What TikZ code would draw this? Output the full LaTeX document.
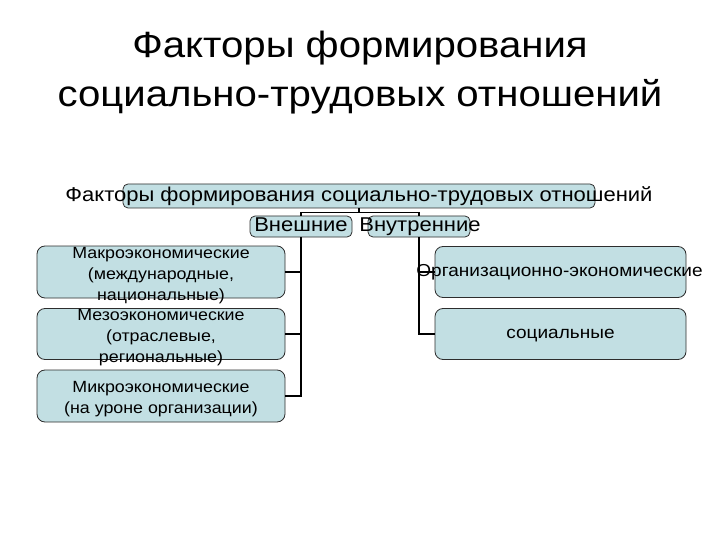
\documentclass[tikz,border=0pt]{standalone}
\usepackage{fontspec}
\setmainfont[FakeStretch=1.1]{Liberation Sans}
\usepackage{tikz}

\begin{document}
\begin{tikzpicture}[x=1pt, y=-1pt, every node/.style={inner sep=0pt, align=center, text height=0.905em, text depth=0.212em, font=\fontsize{16.2}{21}\selectfont}]
  \definecolor{azulCaja}{RGB}{194,223,227}
  \definecolor{bordeCaja}{RGB}{45,45,45}
  \tikzset{caja/.style={draw=bordeCaja, fill=azulCaja, line width=0.8pt, rounded corners=8pt},
           cajita/.style={caja, rounded corners=5pt},
           varias/.style={text height=, text depth=},
           linea/.style={line width=1.6pt}}

  \useasboundingbox (0,0) rectangle (720,540);

  % titulo
  \node[font=\fontsize{36.5}{49}\selectfont, anchor=base] (T1) at (360,58) {Факторы формирования};
  \node[font=\fontsize{36.5}{49}\selectfont, anchor=base] (T2) at (360,107) {социально-трудовых отношений};

  % cajas
  \node[cajita, minimum width=472, minimum height=24] (F) at (359,196) {};
  \node[cajita, minimum width=102, minimum height=21] (E) at (301,226.5) {};
  \node[cajita, minimum width=102, minimum height=21] (I) at (419,226.5) {};

  \node[caja, minimum width=248, minimum height=52] (M1) at (161,272) {};
  \node[caja, minimum width=248, minimum height=51] (M2) at (161,334) {};
  \node[caja, minimum width=248, minimum height=52] (M3) at (161,396) {};

  \node[caja, minimum width=251, minimum height=51] (O1) at (560.5,272) {};
  \node[caja, minimum width=251, minimum height=51] (O2) at (560.5,334) {};

  % conectores
  \draw[linea] (F.south) -- ++(0,4) -| (E.north);
  \draw[linea] (F.south) -- ++(0,4) -| (I.north);
  \foreach \n in {M1,M2,M3} \draw[linea] (E.south) |- (\n.east);
  \foreach \n in {O1,O2} \draw[linea] (I.south) |- (\n.west);

  % textos
  \node[font=\fontsize{20}{24}\selectfont] (Ft) at ([shift={(0,2)}]F) {Факторы формирования социально-трудовых отношений};
  \node[font=\fontsize{20}{24}\selectfont] (Et) at ([shift={(0,2)}]E) {Внешние};
  \node[font=\fontsize{20}{24}\selectfont] (It) at ([shift={(1,2)}]I) {Внутренние};
  \node[varias] (M1t) at ([shift={(0,4)}]M1) {Макроэкономические\\(международные,\\национальные)};
  \node[varias] (M2t) at ([shift={(0,4)}]M2) {Мезоэкономические\\(отраслевые,\\региональные)};
  \node[varias] (M3t) at ([shift={(0,3)}]M3) {Микроэкономические\\(на уроне организации)};
  \node[font=\fontsize{17.3}{21}\selectfont] (O1t) at ([shift={(-1,1)}]O1) {Организационно-экономические};
  \node[font=\fontsize{17.3}{21}\selectfont] (O2t) at ([shift={(0,1)}]O2) {социальные};
\end{tikzpicture}
\end{document}
